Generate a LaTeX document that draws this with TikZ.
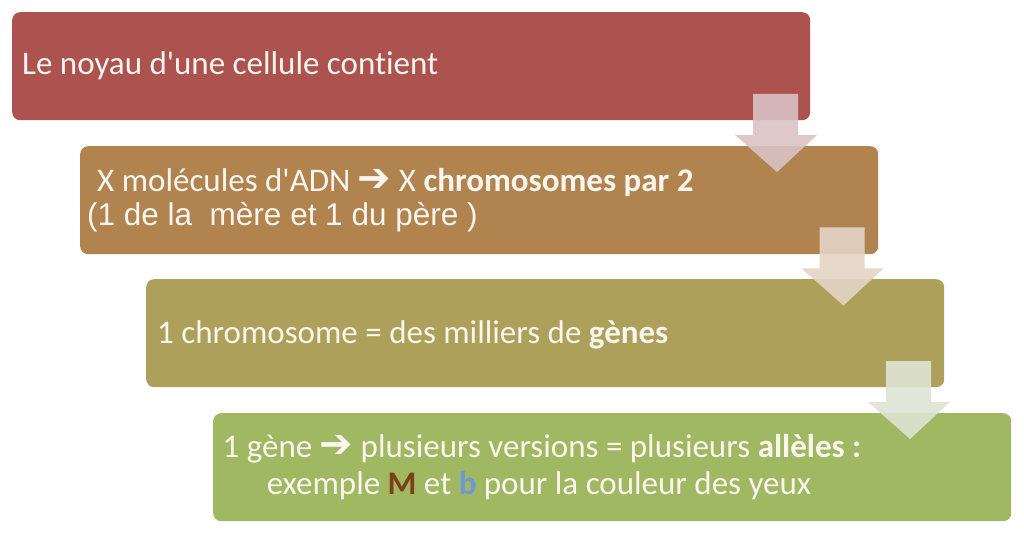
\documentclass[tikz,border=0pt]{standalone}
\usepackage{fontspec}
\setmainfont{Carlito}[Ligatures={TeXOff,NoCommon}]
\newfontfamily\arialf{Liberation Sans}[Ligatures=TeXOff]
\newfontfamily\dejavu{DejaVu Sans}
\definecolor{c1}{HTML}{AC524F}
\definecolor{c2}{HTML}{B0834F}
\definecolor{c3}{HTML}{ADA05A}
\definecolor{c4}{HTML}{A0B862}
\definecolor{a1}{HTML}{DBC3C5}
\definecolor{a2}{HTML}{E4D5C6}
\definecolor{a3}{HTML}{DFE4D3}
\definecolor{tx}{HTML}{FAF6EF}
\definecolor{mcol}{HTML}{7E3F14}
\definecolor{bcol}{HTML}{6F96D6}
\newcommand{\myarr}{{\dejavu\bfseries\fontsize{40}{40}\selectfont ➔}}
\begin{document}
\begin{tikzpicture}[x=1pt,y=-1pt,
  box/.style={rounded corners=8pt, minimum width=798pt, minimum height=108pt,
    anchor=north west, inner sep=0pt, draw=none},
  txt/.style={text=tx, inner sep=0pt, font=\fontsize{33}{33}\selectfont},
  blockarr/.style={draw=none, fill opacity=0.9}]
\useasboundingbox (0,0) rectangle (1024,534);
\fill[white] (0,0) rectangle (1024,534);
\node[box, fill=c1] (b1) at (12,12) {};
\node[box, fill=c2] (b2) at (80,146) {};
\node[box, fill=c3] (b3) at (146,279) {};
\node[box, fill=c4] (b4) at (213,413) {};
% block arrows
\foreach \i/\col in {0/a1,1/a2,2/a3}{
  \fill[blockarr, fill=\col, shift={(66.5*\i,133.5*\i)}]
    (753,94) -- (798,94) -- (798,135) -- (817,135) -- (777,172)
    -- (735,135) -- (753,135) -- cycle;
}
\node[txt, anchor=base west] (t1) at (22,75) {Le noyau d'une cellule contient};
\node[txt, anchor=base west] (t2a) at (97,192) {X molécules d'ADN \myarr{} X \textbf{chromosomes par 2}};
\node[txt, anchor=base west, font=\arialf\fontsize{31.5}{31.5}\selectfont] (t2b) at (87,226) {(1 de la\ \ mère et 1 du père )};
\node[txt, anchor=base west] (t3) at (157,343) {1 chromosome = des milliers de \textbf{gènes}};
\node[txt, anchor=base] (t4a) at (542,457) {1 gène \myarr{} plusieurs versions = plusieurs \textbf{allèles :}};
\node[txt, anchor=base] (t4b) at (539,494) {exemple \textbf{\textcolor{mcol}{M}} et \textbf{\textcolor{bcol}{b}} pour la couleur des yeux};
\end{tikzpicture}
\end{document}
